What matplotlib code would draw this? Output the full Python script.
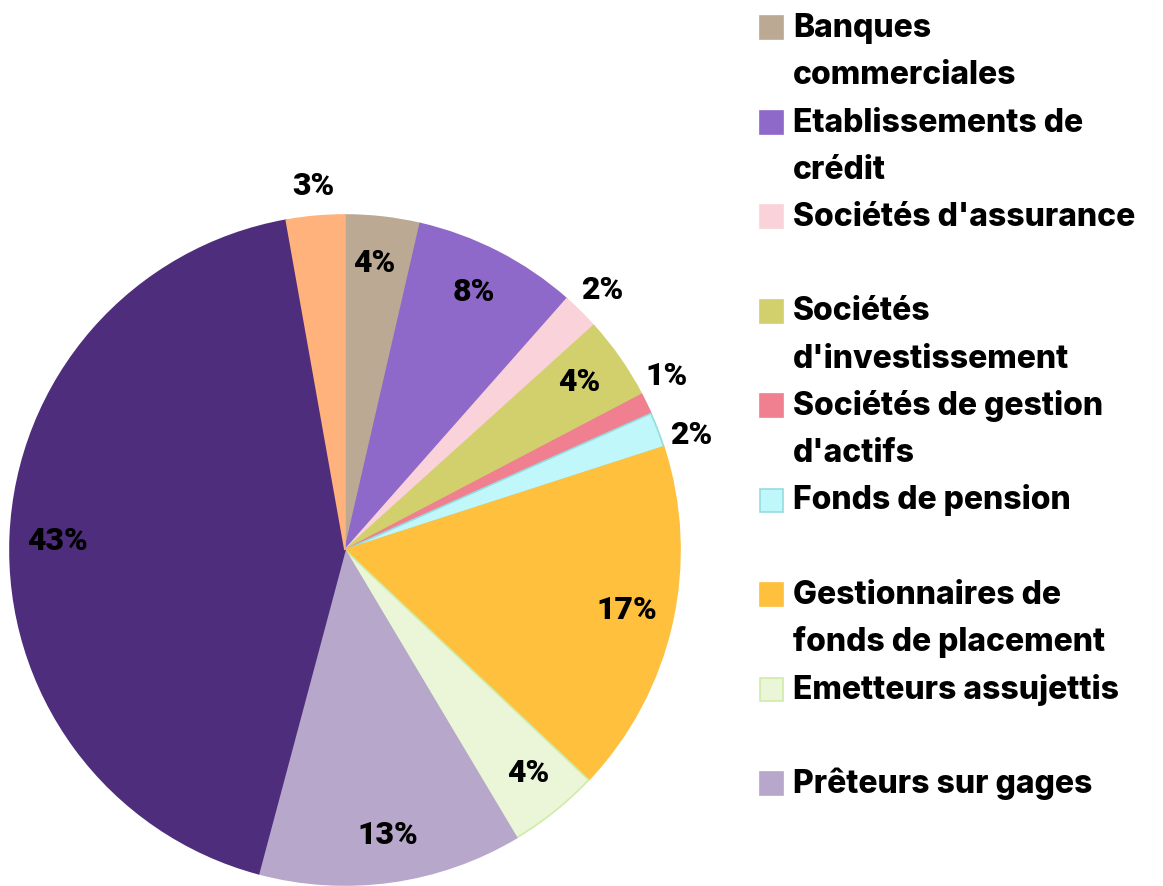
import numpy as np
import matplotlib.pyplot as plt
from matplotlib.patches import Rectangle

categories = ["Banques\ncommerciales", "Etablissements de\ncrédit", "Sociétés d'assurance",
              "Sociétés\nd'investissement", "Sociétés de gestion\nd'actifs", "Fonds de pension",
              "Gestionnaires de\nfonds de placement", "Emetteurs assujettis", "Prêteurs sur gages",
              "Autres", "Divers"]
values = [3.6, 7.9, 1.8, 4.0, 1.0, 1.7, 17.0, 4.4, 12.7, 43.0, 2.8]
colors = ["#BBA994", "#8E69C9", "#F9D3D9", "#D2CF6D", "#F07F8F", "#BFF7FB",
          "#FFC03D", "#EBF6D9", "#B6A7CB", "#4E2D7C", "#FFB27B"]
edges = ["#BBA994", "#8E69C9", "#F9D3D9", "#D2CF6D", "#F07F8F", "#93DCE0",
         "#FFC03D", "#CFEBA8", "#B6A7CB", "#4E2D7C", "#FFB27B"]
n_legend = 9  # only the first nine appear in the legend

W, H = 1163, 886
fig = plt.figure(figsize=(W / 100, H / 100), dpi=100)
cx, cy, r = 345, 550, 335
ax = fig.add_axes([(cx - r) / W, (H - cy - r) / H, 2 * r / W, 2 * r / H])

wedges, _ = ax.pie(values, colors=colors, startangle=90, counterclock=False,
                   radius=1, wedgeprops=dict(linewidth=1.2))
for w, ec in zip(wedges, edges):
    w.set_edgecolor(ec)
ax.set_xlim(-1, 1)
ax.set_ylim(-1, 1)
ax.axis('off')

# label angles, small (outside) labels pushed apart when too close
mids = [(w.theta1 + w.theta2) / 2 for w in wedges]
outside = [v < 3.5 for v in values]
for i in range(1, len(mids)):
    if outside[i] and outside[i - 1] and abs(mids[i - 1] - mids[i]) < 10:
        m = (mids[i - 1] + mids[i]) / 2
        mids[i - 1], mids[i] = m + 5, m - 5

for a, v, out in zip(mids, values, outside):
    ang = np.deg2rad(a + (0 if out else 0.7))
    d = 1.09 if out else 0.86
    ax.text(d * np.cos(ang), d * np.sin(ang), f"{round(v):.0f}%", ha='center', va='center',
            fontsize=23, fontweight='black', family='Roboto', color='black')

# legend drawn by hand
step = 94.5
for i in range(n_legend):
    top = 16 + i * step
    fig.patches.append(Rectangle((760 / W, 1 - (top + 23) / H), 23 / W, 23 / H,
                                 transform=fig.transFigure, facecolor=colors[i],
                                 edgecolor=edges[i], linewidth=1.2))
    for j, line in enumerate(categories[i].split("\n")):
        fig.text(793 / W, 1 - (37 + i * step + j * 47.5) / H, line, ha='left', va='baseline',
                 fontsize=23, fontweight='heavy', family='Inter', color='black')

fig.savefig("out.png", dpi=100)
